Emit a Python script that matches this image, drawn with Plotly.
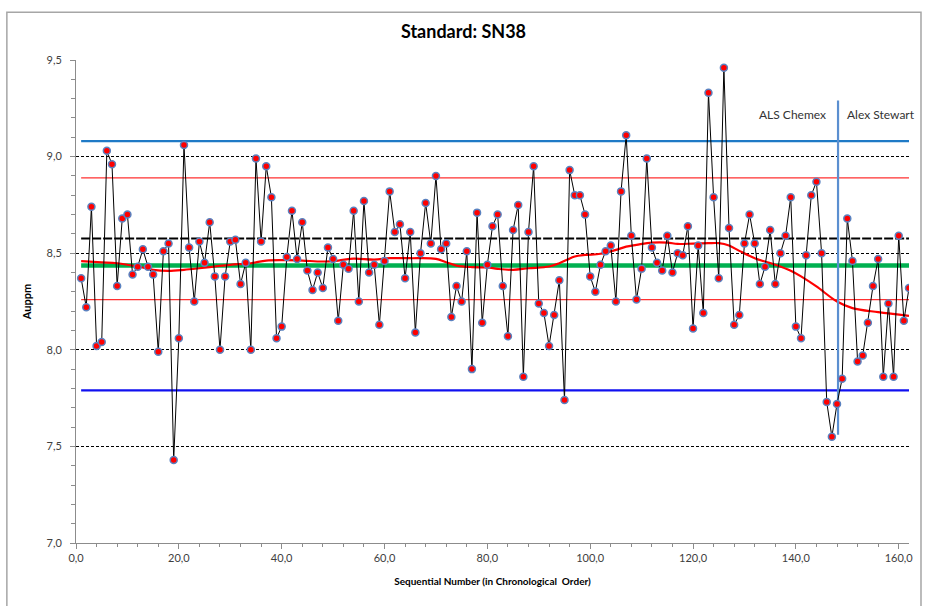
import plotly.graph_objects as go

# ---------------- data ----------------
seq = list(range(1, 163))
au_ppm = [
    8.37, 8.22, 8.74, 8.02, 8.04, 9.03, 8.96, 8.33, 8.68, 8.70,
    8.39, 8.43, 8.52, 8.43, 8.39, 7.99, 8.51, 8.55, 7.43, 8.06,
    9.06, 8.53, 8.25, 8.56, 8.45, 8.66, 8.38, 8.00, 8.38, 8.56,
    8.57, 8.34, 8.45, 8.00, 8.99, 8.56, 8.95, 8.79, 8.06, 8.12,
    8.48, 8.72, 8.47, 8.66, 8.41, 8.31, 8.40, 8.32, 8.53, 8.47,
    8.15, 8.44, 8.42, 8.72, 8.25, 8.77, 8.40, 8.44, 8.13, 8.46,
    8.82, 8.61, 8.65, 8.37, 8.61, 8.09, 8.50, 8.76, 8.55, 8.90,
    8.52, 8.55, 8.17, 8.33, 8.25, 8.51, 7.90, 8.71, 8.14, 8.44,
    8.64, 8.70, 8.33, 8.07, 8.62, 8.75, 7.86, 8.61, 8.95, 8.24,
    8.19, 8.02, 8.18, 8.36, 7.74, 8.93, 8.80, 8.80, 8.70, 8.38,
    8.30, 8.44, 8.51, 8.54, 8.25, 8.82, 9.11, 8.59, 8.26, 8.42,
    8.99, 8.53, 8.45, 8.41, 8.59, 8.40, 8.50, 8.49, 8.64, 8.11,
    8.54, 8.19, 9.33, 8.79, 8.37, 9.46, 8.63, 8.13, 8.18, 8.55,
    8.70, 8.55, 8.34, 8.43, 8.62, 8.34, 8.50, 8.59, 8.79, 8.12,
    8.06, 8.49, 8.80, 8.87, 8.50, 7.73, 7.55, 7.72, 7.85, 8.68,
    8.46, 7.94, 7.97, 8.14, 8.33, 8.47, 7.86, 8.24, 7.86, 8.59,
    8.15, 8.32,
]

# smoothed trend (red curve)
trend_x = [1, 5, 8, 12, 15, 18, 21, 24, 27, 30, 34, 37, 41, 44, 48, 51, 54, 58,
           61, 65, 70, 72, 74, 77, 80, 82, 85, 88, 92, 94, 95.5, 97, 99, 102,
           105, 107, 109, 112, 115, 117, 120, 123, 125, 127, 129, 132, 136,
           139, 141, 144, 148, 151, 156, 162]
trend_y = [8.459, 8.453, 8.448, 8.431, 8.414, 8.409, 8.414, 8.422, 8.431, 8.440,
           8.448, 8.462, 8.464, 8.462, 8.457, 8.462, 8.472, 8.467, 8.474, 8.474,
           8.471, 8.453, 8.436, 8.428, 8.426, 8.419, 8.414, 8.422, 8.431, 8.448,
           8.466, 8.483, 8.491, 8.497, 8.517, 8.534, 8.543, 8.555, 8.555, 8.548,
           8.550, 8.552, 8.552, 8.540, 8.512, 8.474, 8.440, 8.409, 8.380, 8.328,
           8.250, 8.216, 8.195, 8.176]

# control / reference levels
upper_3sd = 9.08
upper_red = 8.89
certified = 8.576
mean_val = 8.436
lower_red = 8.26
lower_3sd = 7.79

# lab change marker
lab_change_x = 148.2
lab_change_y = [7.56, 9.29]
lab_left = "ALS Chemex"
lab_right = "Alex Stewart"
label_y = 9.22

x_ticks = [0, 20, 40, 60, 80, 100, 120, 140, 160]
x_ticktext = ["0,0", "20,0", "40,0", "60,0", "80,0", "100,0", "120,0", "140,0", "160,0"]
y_ticks = [7.0, 7.5, 8.0, 8.5, 9.0, 9.5]
y_ticktext = ["7,0", "7,5", "8,0", "8,5", "9,0", "9,5"]

FONT = "Lato, 'Open Sans', sans-serif"

fig = go.Figure()

span_x = [seq[0], seq[-1]]
levels = [
    (upper_3sd, "#1f7ac6", 2.2, "solid"),
    (lower_3sd, "#1010f0", 2.2, "solid"),
    (upper_red, "#ff3030", 1.2, "solid"),
    (lower_red, "#ff3030", 1.2, "solid"),
    (certified, "#000000", 2.2, "9px,2px"),
    (mean_val, "#00b050", 4.5, "solid"),
]
for val, col, w, dash in levels:
    fig.add_trace(go.Scatter(x=span_x, y=[val, val], mode="lines",
                             line=dict(color=col, width=w, dash=dash),
                             hoverinfo="skip", showlegend=False))

fig.add_trace(go.Scatter(x=trend_x, y=trend_y, mode="lines",
                         line=dict(color="#ff0000", width=2.2, shape="spline"),
                         showlegend=False))

fig.add_trace(go.Scatter(x=[lab_change_x, lab_change_x], y=lab_change_y, mode="lines",
                         line=dict(color="#5b8fd0", width=2.2), showlegend=False))

fig.add_trace(go.Scatter(x=seq, y=au_ppm, mode="lines+markers",
                         line=dict(color="#000000", width=1),
                         marker=dict(color="#ff0000", size=7,
                                     line=dict(color="#5a82c0", width=1.5)),
                         showlegend=False))

fig.add_annotation(x=lab_change_x, y=label_y, xref="x", yref="y", text=lab_left,
                   showarrow=False, xanchor="right", xshift=-10,
                   font=dict(family=FONT, size=12, color="#333333"))
fig.add_annotation(x=lab_change_x, y=label_y, xref="x", yref="y", text=lab_right,
                   showarrow=False, xanchor="left", xshift=7,
                   font=dict(family=FONT, size=12, color="#333333"))

# outer chart border
fig.add_shape(type="rect", xref="paper", yref="paper",
              x0=-0.083, x1=1.0144, y0=-0.2, y1=1.099,
              line=dict(color="#a6a6a6", width=1.5), layer="below")

fig.update_layout(
    width=927, height=606,
    margin=dict(l=76, r=18, t=60, b=63),
    paper_bgcolor="white", plot_bgcolor="white",
    title=dict(text="<b>Standard: SN38</b>", x=0.5, xanchor="center",
               y=1 - 32 / 606, yanchor="middle", yref="container",
               font=dict(family=FONT, size=18, color="#000000")),
    font=dict(family=FONT, size=11, color="#404040"),
    xaxis=dict(range=[0, 162], tickvals=x_ticks, ticktext=x_ticktext,
               showgrid=False, zeroline=False,
               showline=True, linecolor="#8c8c8c", linewidth=1,
               ticks="outside", ticklen=5, tickcolor="#8c8c8c",
               minor=dict(dtick=4, ticks="outside", ticklen=3, tickcolor="#8c8c8c"),
               tickfont=dict(size=11, color="#404040"),
               title=dict(text="<b>Sequential Number (in Chronological  Order)</b>",
                          font=dict(size=10, color="#000000"), standoff=14)),
    yaxis=dict(range=[7.0, 9.5], tickvals=y_ticks, ticktext=y_ticktext,
               showgrid=True, gridcolor="#000000", gridwidth=1, griddash="3px,2px",
               zeroline=False, showline=True, linecolor="#8c8c8c", linewidth=1,
               ticks="outside", ticklen=5, tickcolor="#8c8c8c",
               minor=dict(dtick=0.1, ticks="outside", ticklen=4, tickcolor="#8c8c8c",
                          showgrid=False),
               ticklabelstandoff=6,
               tickfont=dict(size=11, color="#404040"),
               title=dict(text="<b>Auppm</b>", font=dict(size=11, color="#000000"),
                          standoff=12)),
)

fig.write_html("out.html")
